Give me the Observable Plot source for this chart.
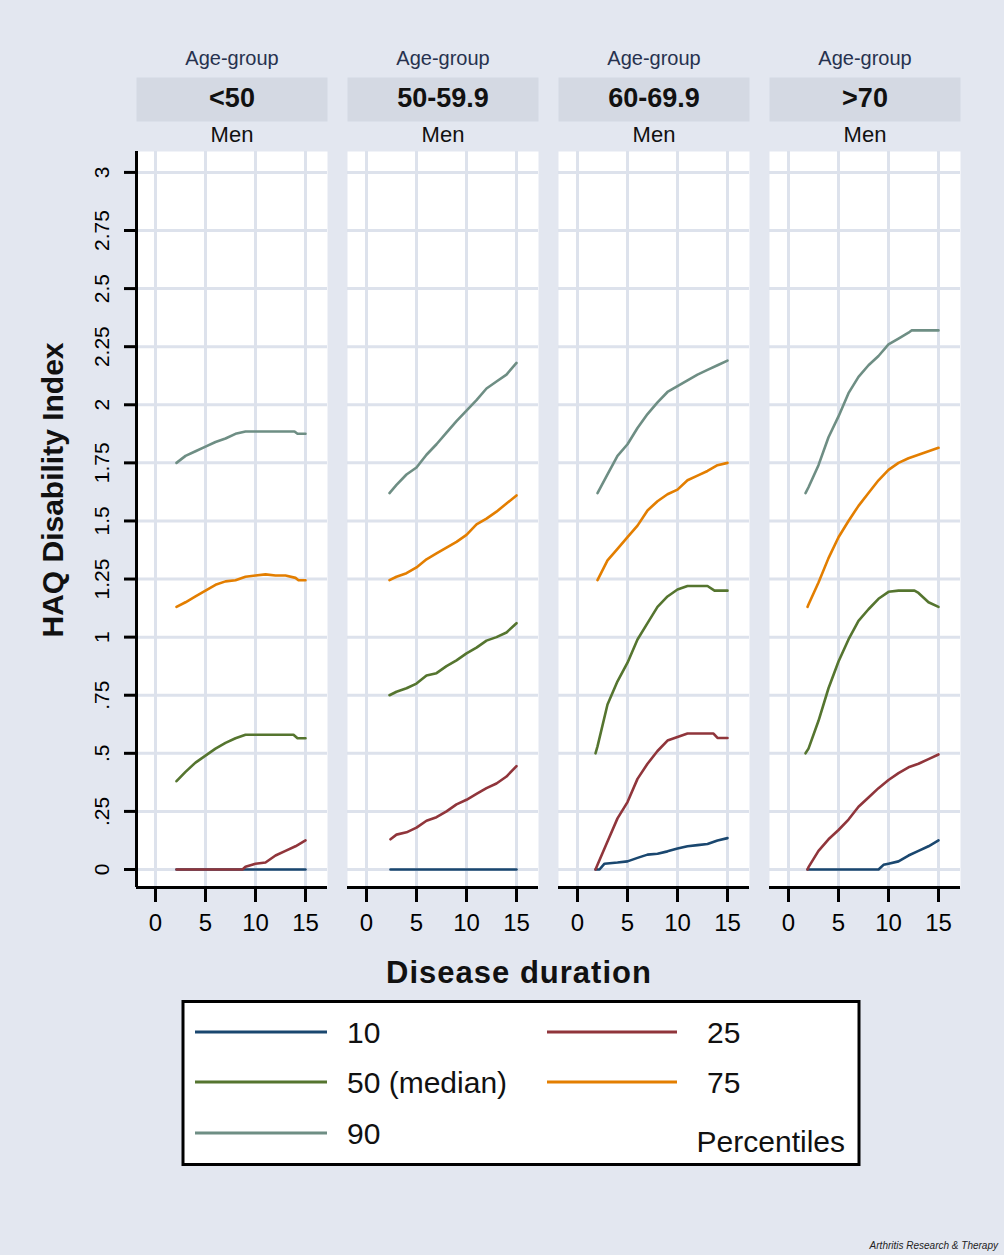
<!DOCTYPE html>
<html><head><meta charset="utf-8">
<script src="https://cdn.jsdelivr.net/npm/d3@7"></script>
<script src="https://cdn.jsdelivr.net/npm/@observablehq/plot@0.6"></script>
<style>
html,body{margin:0;padding:0;background:#e3e7f0;}
#wrap{position:relative;width:1004px;height:1255px;overflow:hidden;font-family:"Liberation Sans",Arial,Helvetica,sans-serif;}
#chart{position:absolute;left:0;top:0;}
#legend{position:absolute;left:0;top:1000px;}
#caption{position:absolute;right:6px;top:1240px;font-size:10px;font-style:italic;color:#222;}
</style></head>
<body><div id="wrap"><div id="chart"></div><div id="legend"></div><div id="caption"></div></div>
<script>
// ---------- data ----------
const ageGroups = ["<50", "50-59.9", "60-69.9", ">70"];
const facetTitle = "Age-group";
const sexLabel = "Men";
const percentileKeys = ["10", "25", "50 (median)", "75", "90"];
const percentileColors = ["#1a476f", "#90353b", "#55752f", "#e37e00", "#6e8e84"];
const legendTitle = "Percentiles";
const xTitle = "Disease duration";
const yTitle = "HAQ Disability Index";
const captionText = "Arthritis Research & Therapy";
const xTicks = [0, 5, 10, 15];
const yTicks = [0, 0.25, 0.5, 0.75, 1, 1.25, 1.5, 1.75, 2, 2.25, 2.5, 2.75, 3];
const yTickLabels = ["0", ".25", ".5", ".75", "1", "1.25", "1.5", "1.75", "2", "2.25", "2.5", "2.75", "3"];
const xDomain = [-1.9, 17.2];
const yDomain = [-0.0775, 3.09];

// [disease duration, HAQ] pairs per age group and percentile
const lt50_p10 = [[2.1,0],[15,0]];
const lt50_p25 = [[2.1,0],[8.7,0],[9,0.012],[10,0.025],[11,0.03],[12,0.06],[13,0.08],[14,0.1],[15,0.125]];
const lt50_p50 = [[2.1,0.38],[3,0.42],[4,0.46],[5,0.49],[6,0.52],[7,0.545],[8,0.565],[9,0.58],[10,0.58],[11,0.58],[12,0.58],[13,0.58],[13.8,0.58],[14.2,0.565],[15,0.565]];
const lt50_p75 = [[2.1,1.13],[3,1.15],[4,1.175],[5,1.2],[6,1.225],[7,1.24],[8,1.245],[9,1.26],[10,1.265],[11,1.27],[12,1.265],[13,1.265],[14,1.255],[14.3,1.245],[15,1.245]];
const lt50_p90 = [[2.1,1.75],[3,1.78],[4,1.8],[5,1.82],[6,1.84],[7,1.855],[8,1.875],[9,1.885],[10,1.885],[11,1.885],[12,1.885],[13,1.885],[13.9,1.885],[14.2,1.875],[15,1.875]];

const a50_p10 = [[2.4,0],[15,0]];
const a50_p25 = [[2.4,0.13],[3,0.15],[4,0.16],[5,0.18],[6,0.21],[7,0.225],[8,0.25],[9,0.28],[10,0.3],[11,0.325],[12,0.35],[13,0.37],[14,0.4],[15,0.445]];
const a50_p50 = [[2.3,0.75],[3,0.765],[4,0.78],[5,0.8],[6,0.835],[7,0.845],[8,0.875],[9,0.9],[10,0.93],[11,0.955],[12,0.985],[13,1.0],[14,1.02],[15,1.06]];
const a50_p75 = [[2.3,1.245],[3,1.26],[4,1.275],[5,1.3],[6,1.335],[7,1.36],[8,1.385],[9,1.41],[10,1.44],[11,1.485],[12,1.51],[13,1.54],[14,1.575],[15,1.61]];
const a50_p90 = [[2.3,1.62],[3,1.655],[4,1.7],[5,1.73],[6,1.785],[7,1.83],[8,1.88],[9,1.93],[10,1.975],[11,2.02],[12,2.07],[13,2.1],[14,2.13],[15,2.18]];

const a60_p10 = [[1.8,0],[2.2,0],[2.7,0.025],[4,0.03],[5,0.035],[6,0.05],[7,0.064],[8,0.068],[9,0.078],[10,0.09],[11,0.1],[12,0.105],[13,0.11],[14,0.125],[15,0.135]];
const a60_p25 = [[1.8,0],[2,0.02],[3,0.12],[4,0.22],[5,0.29],[6,0.39],[7,0.455],[8,0.51],[9,0.555],[10,0.57],[11,0.585],[12,0.585],[13,0.585],[13.6,0.585],[14,0.566],[15,0.566]];
const a60_p50 = [[1.8,0.5],[2,0.53],[3,0.71],[4,0.81],[5,0.89],[6,0.99],[7,1.06],[8,1.13],[9,1.175],[10,1.205],[11,1.22],[12,1.22],[13,1.22],[13.7,1.2],[15,1.2]];
const a60_p75 = [[2,1.245],[3,1.33],[4,1.38],[5,1.43],[6,1.48],[7,1.545],[8,1.585],[9,1.615],[10,1.635],[11,1.675],[12,1.695],[13,1.715],[14,1.74],[15,1.75]];
const a60_p90 = [[2,1.62],[3,1.7],[4,1.78],[5,1.83],[6,1.9],[7,1.96],[8,2.01],[9,2.055],[10,2.08],[11,2.105],[12,2.13],[13,2.15],[14,2.17],[15,2.19]];

const a70_p10 = [[1.9,0],[9,0],[9.5,0.02],[10,0.025],[11,0.035],[12,0.06],[13,0.08],[14,0.1],[15,0.125]];
const a70_p25 = [[1.9,0],[2,0.01],[3,0.08],[4,0.13],[5,0.17],[6,0.215],[7,0.27],[8,0.31],[9,0.35],[10,0.385],[11,0.415],[12,0.44],[13,0.455],[14,0.475],[15,0.495]];
const a70_p50 = [[1.7,0.5],[2,0.52],[3,0.64],[4,0.78],[5,0.895],[6,0.99],[7,1.07],[8,1.12],[9,1.165],[10,1.195],[11,1.2],[12,1.2],[12.6,1.2],[13,1.19],[14,1.15],[15,1.13]];
const a70_p75 = [[1.9,1.13],[2,1.14],[3,1.235],[4,1.34],[5,1.43],[6,1.5],[7,1.565],[8,1.62],[9,1.675],[10,1.72],[11,1.75],[12,1.77],[13,1.785],[14,1.8],[15,1.815]];
const a70_p90 = [[1.7,1.62],[2,1.645],[3,1.74],[4,1.86],[5,1.95],[6,2.05],[7,2.12],[8,2.17],[9,2.21],[10,2.26],[11,2.285],[12,2.31],[12.3,2.32],[15,2.32]];

const seriesByAge = [
  [lt50_p10, lt50_p25, lt50_p50, lt50_p75, lt50_p90],
  [a50_p10, a50_p25, a50_p50, a50_p75, a50_p90],
  [a60_p10, a60_p25, a60_p50, a60_p75, a60_p90],
  [a70_p10, a70_p25, a70_p50, a70_p75, a70_p90]
];

const rows = [];
ageGroups.forEach((age, i) => seriesByAge[i].forEach((pts, j) =>
  pts.forEach(([d, v]) => rows.push({age, pct: percentileKeys[j], d, v}))));

// ---------- chart ----------
const FONT = '"Liberation Sans", Arial, Helvetica, sans-serif';
const gridColor = "#dde2ec";

const chart = Plot.plot({
  width: 1004,
  height: 1000,
  marginLeft: 135,
  marginRight: 44,
  marginTop: 151,
  marginBottom: 113,
  style: {background: "transparent", fontFamily: FONT, color: "black", overflow: "visible"},
  fx: {domain: ageGroups, paddingInner: 0.096, paddingOuter: 0, axis: null, label: null},
  x: {domain: xDomain},
  y: {domain: yDomain},
  color: {domain: percentileKeys, range: percentileColors},
  marks: [
    Plot.frame({fill: "white", stroke: null}),
    Plot.frame({fill: "#d4d9e3", stroke: null, insetTop: -74, insetBottom: 766}),
    Plot.gridX(xTicks, {stroke: gridColor, strokeOpacity: 1, strokeWidth: 3}),
    Plot.gridY(yTicks, {stroke: gridColor, strokeOpacity: 1, strokeWidth: 3}),
    Plot.line(rows, {fx: "age", x: "d", y: "v", z: "pct", stroke: "pct", strokeWidth: 2.6, strokeLinejoin: "round"}),
    Plot.ruleY([yDomain[0]], {stroke: "black", strokeWidth: 3}),
    Plot.ruleX(ageGroups.slice(0, 1), {fx: d => d, x: () => xDomain[0], stroke: "black", strokeWidth: 3}),
    Plot.axisX(xTicks, {tickSize: 15, tickPadding: 11, fontSize: 24, strokeWidth: 3, label: null}),
    Plot.axisY(yTicks, {tickSize: 12, tickPadding: 16, tickRotate: -90, fontSize: 21, strokeWidth: 3, label: null,
      tickFormat: d => yTickLabels[yTicks.indexOf(d)]}),
    Plot.text(ageGroups, {fx: d => d, text: () => facetTitle, frameAnchor: "top", dy: -101, fontSize: 20, fill: "#27324f"}),
    Plot.text(ageGroups, {fx: d => d, text: d => d, frameAnchor: "top", dy: -64, fontSize: 27, fontWeight: "bold", fill: "#111"}),
    Plot.text(ageGroups, {fx: d => d, text: () => sexLabel, frameAnchor: "top", dy: -25, fontSize: 22, fill: "#111"})
  ]
});
document.getElementById("chart").appendChild(chart);

const svg = d3.select(chart);
svg.append("text")
  .attr("x", 519).attr("y", 983)
  .attr("text-anchor", "middle")
  .style("font-family", FONT).style("font-weight", "bold").style("font-size", "31px")
  .style("letter-spacing", "1px")
  .attr("fill", "#111")
  .text(xTitle);
svg.append("text")
  .attr("transform", "translate(63,490) rotate(-90)")
  .attr("text-anchor", "middle")
  .style("font-family", FONT).style("font-weight", "bold").style("font-size", "30px")
  .attr("fill", "#111")
  .text(yTitle);

// ---------- legend ----------
const colorScale = chart.scale("color");
const lsvg = d3.select("#legend").append("svg").attr("width", 1004).attr("height", 200)
  .style("font-family", FONT);
lsvg.append("rect").attr("x", 183).attr("y", 1.5).attr("width", 676).attr("height", 163)
  .attr("fill", "white").attr("stroke", "black").attr("stroke-width", 3);
const legendPos = [
  {col: 0, row: 0}, {col: 1, row: 0}, {col: 0, row: 1}, {col: 1, row: 1}, {col: 0, row: 2}
];
const colLine = [[195, 327], [547, 677]];
const colText = [347, 707];
const rowY = [32, 82, 133];
percentileKeys.forEach((k, i) => {
  const p = legendPos[i];
  const c = colorScale.apply ? colorScale.apply(k) : percentileColors[i];
  lsvg.append("line").attr("x1", colLine[p.col][0]).attr("x2", colLine[p.col][1])
    .attr("y1", rowY[p.row]).attr("y2", rowY[p.row]).attr("stroke", c).attr("stroke-width", 3);
  lsvg.append("text").attr("x", colText[p.col]).attr("y", rowY[p.row] + 11)
    .style("font-size", "30px").attr("fill", "#111").text(k);
});
lsvg.append("text").attr("x", 845).attr("y", 152).attr("text-anchor", "end")
  .style("font-size", "30px").attr("fill", "#111").text(legendTitle);

document.getElementById("caption").textContent = captionText;
</script>
</body></html>
